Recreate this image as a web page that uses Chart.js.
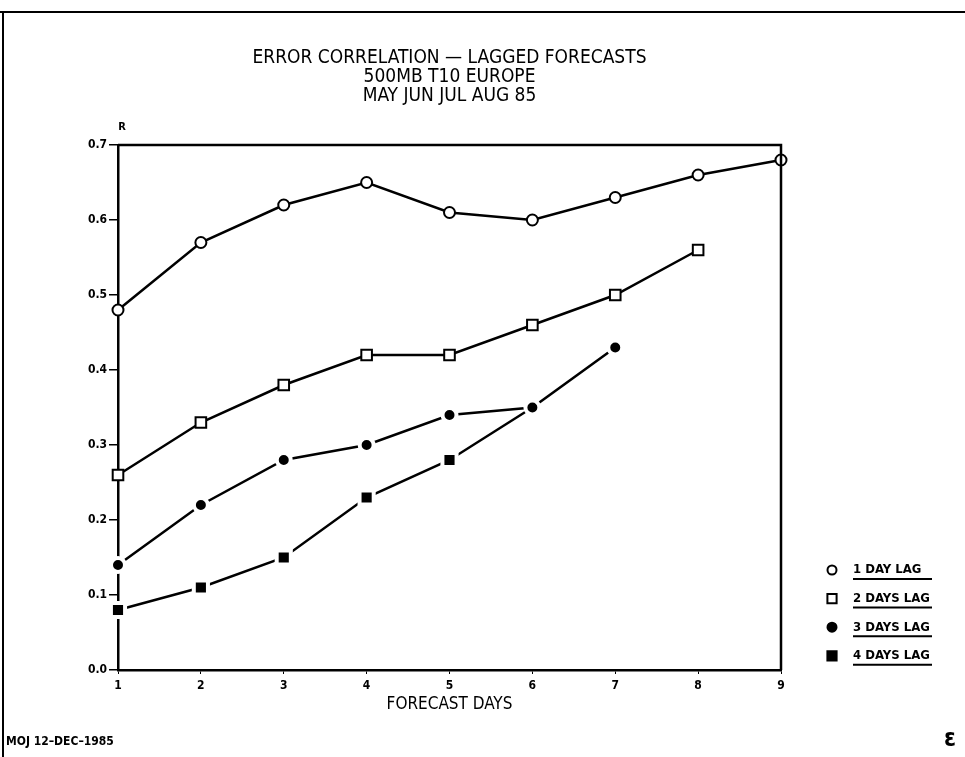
<!DOCTYPE html>
<html>
<head>
<meta charset="utf-8">
<script src="https://cdn.jsdelivr.net/npm/chart.js@4/dist/chart.umd.min.js"></script>
<style>
  html, body { margin: 0; padding: 0; background: #fff; }
  #wrap { width: 965px; height: 757px; position: relative; }
</style>
</head>
<body>
<div id="wrap"><canvas id="chart"></canvas></div>
<script>
// data
const days = ['1', '2', '3', '4', '5', '6', '7', '8', '9'];
const lag1 = [0.48, 0.57, 0.62, 0.65, 0.61, 0.60, 0.63, 0.66, 0.68];
const lag2 = [0.26, 0.33, 0.38, 0.42, 0.42, 0.46, 0.50, 0.56];
const lag3 = [0.14, 0.22, 0.28, 0.30, 0.34, 0.35, 0.43];
const lag4 = [0.08, 0.11, 0.15, 0.23, 0.28, 0.35];
const seriesNames = ['1 DAY LAG', '2 DAYS LAG', '3 DAYS LAG', '4 DAYS LAG'];
const yTicks = [0.0, 0.1, 0.2, 0.3, 0.4, 0.5, 0.6, 0.7];
const titleLines = ['ERROR CORRELATION \u2014 LAGGED FORECASTS', '500MB T10 EUROPE', 'MAY JUN JUL AUG 85'];

const FONT = '"DejaVu Sans Condensed", "DejaVu Sans", sans-serif';

// hide a marker that sits exactly on a marker of the 3-day series
function lag4Radius(c) {
  return lag3[c.dataIndex] === lag4[c.dataIndex] ? 0 : 10;
}

const decor = {
  id: 'decor',
  afterDraw(chart) {
    const ctx = chart.ctx, a = chart.chartArea;
    ctx.save();
    ctx.strokeStyle = '#000';
    ctx.fillStyle = '#000';

    // page frame
    ctx.lineWidth = 2;
    ctx.beginPath();
    ctx.moveTo(0, 12); ctx.lineTo(965, 12);
    ctx.moveTo(3, 12); ctx.lineTo(3, 757);
    ctx.stroke();

    // top + right of plot box
    ctx.lineWidth = 2.5;
    ctx.beginPath();
    ctx.moveTo(a.left, a.top); ctx.lineTo(a.right, a.top); ctx.lineTo(a.right, a.bottom);
    ctx.stroke();

    const cx = (a.left + a.right) / 2;
    ctx.textAlign = 'center';
    ctx.textBaseline = 'middle';
    ctx.font = '19px ' + FONT;
    titleLines.forEach((t, i) => ctx.fillText(t, cx, 58 + i * 19));

    ctx.font = 'bold 11px ' + FONT;
    ctx.fillText('R', a.left + 4, 127);

    ctx.font = '17px ' + FONT;
    ctx.fillText('FORECAST DAYS', cx, 705);

    // legend
    ctx.textAlign = 'left';
    chart.data.datasets.forEach((ds, i) => {
      const y = 570 + i * 28.6;
      const filled = ds.pointBackgroundColor === '#000';
      ctx.fillStyle = filled ? '#000' : '#fff';
      ctx.strokeStyle = '#000';
      ctx.lineWidth = 2;
      Chart.helpers.drawPoint(ctx, {
        pointStyle: ds.pointStyle,
        radius: ds.pointStyle === 'rect' ? 6.5 : 4.5,
        borderWidth: 2,
        rotation: 0
      }, 832, y);
      ctx.fillStyle = '#000';
      ctx.font = 'bold 13px ' + FONT;
      ctx.fillText(ds.label, 853, y);
      ctx.lineWidth = 2;
      ctx.beginPath();
      ctx.moveTo(853, y + 9); ctx.lineTo(932, y + 9);
      ctx.stroke();
    });

    // footer
    ctx.font = 'bold 12px ' + FONT;
    ctx.fillText('MOJ 12\u2013DEC\u20131985', 6, 742);
    ctx.font = 'bold 24px ' + FONT;
    ctx.fillText('\u03b5', 944, 740);
    ctx.restore();
  }
};

new Chart(document.getElementById('chart'), {
  type: 'line',
  data: {
    labels: days,
    datasets: [{
      label: seriesNames[0],
      data: lag1,
      pointStyle: 'circle',
      pointRadius: 5.5,
      pointBorderWidth: 2,
      pointBackgroundColor: '#fff',
      pointBorderColor: '#000'
    }, {
      label: seriesNames[1],
      data: lag2,
      pointStyle: 'rect',
      pointRadius: 7.5,
      pointBorderWidth: 2,
      pointBackgroundColor: '#fff',
      pointBorderColor: '#000'
    }, {
      label: seriesNames[2],
      data: lag3,
      pointStyle: 'circle',
      pointRadius: 7,
      pointBorderWidth: 4,
      pointBackgroundColor: '#000',
      pointBorderColor: '#fff'
    }, {
      label: seriesNames[3],
      data: lag4,
      pointStyle: 'rect',
      pointRadius: lag4Radius,
      pointBorderWidth: 4,
      pointBackgroundColor: '#000',
      pointBorderColor: '#fff'
    }].map(d => Object.assign({
      borderColor: '#000',
      borderWidth: 2.5,
      tension: 0,
      fill: false,
      clip: false
    }, d))
  },
  options: {
    responsive: true,
    maintainAspectRatio: false,
    animation: false,
    events: [],
    layout: { padding: { top: 145, right: 184, left: 0, bottom: 0 } },
    plugins: {
      legend: { display: false },
      title: { display: false },
      tooltip: { enabled: false }
    },
    scales: {
      x: {
        type: 'category',
        offset: false,
        afterFit: s => { s.height = 87; },
        grid: { drawOnChartArea: false, drawTicks: true, tickLength: 4, color: '#000', lineWidth: 1 },
        border: { display: true, color: '#000', width: 2.5 },
        ticks: { color: '#000', font: { family: FONT, size: 12, weight: 'bold' }, padding: 5, maxRotation: 0 }
      },
      y: {
        min: 0,
        max: 0.7,
        afterFit: s => { s.width = 118; },
        afterBuildTicks: s => { s.ticks = yTicks.map(v => ({ value: v })); },
        grid: { drawOnChartArea: false, drawTicks: true, tickLength: 9, color: '#000', lineWidth: 1.5 },
        border: { display: true, color: '#000', width: 2.5 },
        ticks: {
          color: '#000',
          font: { family: FONT, size: 12, weight: 'bold' },
          padding: 2,
          callback: v => v.toFixed(1)
        }
      }
    }
  },
  plugins: [decor]
});
</script>
</body>
</html>
